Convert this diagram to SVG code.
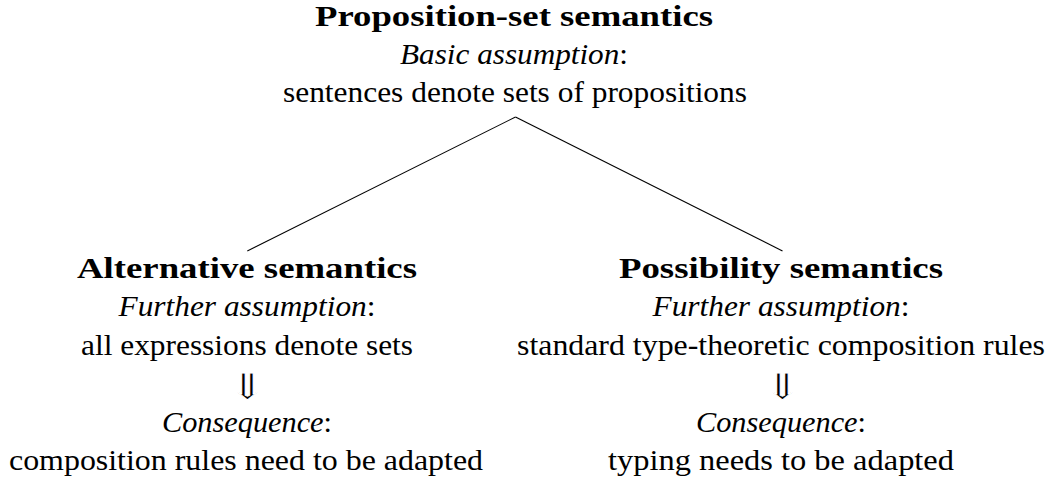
<svg xmlns="http://www.w3.org/2000/svg" width="1055" height="481" viewBox="0 0 1055 481">
<style>
text { font-family: "Liberation Serif", "Times New Roman", serif; fill: #000; text-anchor: middle; }
.t { font-weight: bold; font-size: 30px; }
.r { font-size: 29px; }
.i { font-size: 29px; font-style: italic; }
.i tspan.c { font-style: normal; }
.a { font-family: "DejaVu Sans", "DejaVu Serif", sans-serif; font-weight: 200; font-size: 36px; stroke: #fff; stroke-width: 0.9px; }
.edge { stroke: #000; stroke-width: 1.1; fill: none; }
</style>
<rect x="0" y="0" width="1055" height="481" fill="#fff"/>
<g id="connectors">
  <line class="edge" x1="515.5" y1="117" x2="247.3" y2="251"/>
  <line class="edge" x1="515.5" y1="117" x2="782.5" y2="251"/>
</g>
<g id="node-root">
  <text class="t" x="514" y="26" textLength="398" lengthAdjust="spacingAndGlyphs">Proposition-set semantics</text>
  <text class="i" x="514" y="64" textLength="228" lengthAdjust="spacingAndGlyphs">Basic assumption<tspan class="c">:</tspan></text>
  <text class="r" x="515" y="102" textLength="464" lengthAdjust="spacingAndGlyphs">sentences denote sets of propositions</text>
</g>
<g id="node-alternative">
  <text class="t" x="247" y="277.5" textLength="340" lengthAdjust="spacingAndGlyphs">Alternative semantics</text>
  <text class="i" x="247" y="316" textLength="257" lengthAdjust="spacingAndGlyphs">Further assumption<tspan class="c">:</tspan></text>
  <text class="r" x="247" y="355" textLength="332" lengthAdjust="spacingAndGlyphs">all expressions denote sets</text>
  <text class="a" transform="translate(247,399) scale(1.3,1)" x="0" y="0">⇓</text>
  <text class="i" x="247" y="432" textLength="170" lengthAdjust="spacingAndGlyphs">Consequence<tspan class="c">:</tspan></text>
  <text class="r" x="246" y="470" textLength="474" lengthAdjust="spacingAndGlyphs">composition rules need to be adapted</text>
</g>
<g id="node-possibility">
  <text class="t" x="781" y="277.5" textLength="324" lengthAdjust="spacingAndGlyphs">Possibility semantics</text>
  <text class="i" x="781" y="316" textLength="257" lengthAdjust="spacingAndGlyphs">Further assumption<tspan class="c">:</tspan></text>
  <text class="r" x="781" y="355" textLength="528" lengthAdjust="spacingAndGlyphs">standard type-theoretic composition rules</text>
  <text class="a" transform="translate(782,399) scale(1.3,1)" x="0" y="0">⇓</text>
  <text class="i" x="781" y="432" textLength="170" lengthAdjust="spacingAndGlyphs">Consequence<tspan class="c">:</tspan></text>
  <text class="r" x="781" y="470" textLength="346" lengthAdjust="spacingAndGlyphs">typing needs to be adapted</text>
</g>
</svg>
